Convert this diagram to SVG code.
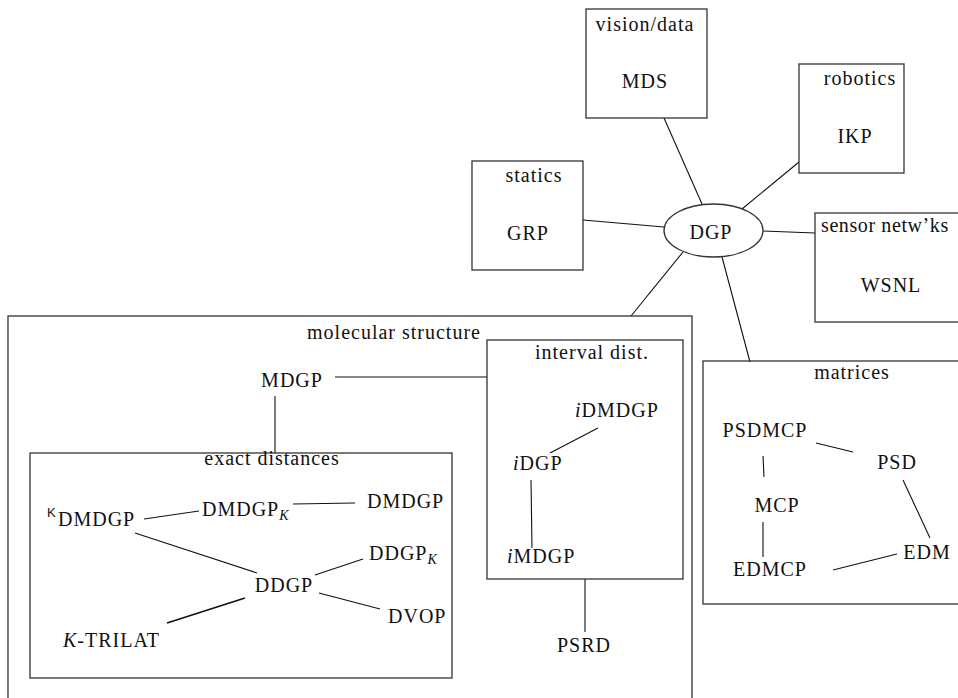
<svg xmlns="http://www.w3.org/2000/svg" width="958" height="698" viewBox="0 0 958 698" font-family="Liberation Serif, DejaVu Serif, serif">
<style>
text{font-size:20px;fill:#111;letter-spacing:1px}
.box{fill:none;stroke:#333;stroke-width:1.3}
.c line{stroke:#111;stroke-width:1.1}
.m{text-anchor:middle}
.it{font-style:italic}
.sub{font-style:italic;font-size:14px}
.sup{font-size:13px}
</style>
<rect width="958" height="698" fill="#fff"/>
<g class="c" id="connectors">
<line x1="664" y1="118" x2="702" y2="204"/>
<line x1="799" y1="162" x2="742" y2="209"/>
<line x1="583" y1="220" x2="664" y2="227"/>
<line x1="763" y1="231" x2="815" y2="233"/>
<line x1="683" y1="252" x2="631" y2="316"/>
<line x1="722" y1="257" x2="750" y2="362"/>
<line x1="335" y1="377" x2="487" y2="377"/>
<line x1="275" y1="396" x2="275" y2="453"/>
<line x1="585" y1="579" x2="585" y2="632"/>
<line x1="550" y1="453" x2="598" y2="428"/>
<line x1="531" y1="480" x2="532" y2="548"/>
<line x1="144" y1="519" x2="199" y2="511"/>
<line x1="293" y1="504" x2="355" y2="503"/>
<line x1="135" y1="533" x2="257" y2="573"/>
<line x1="315" y1="575" x2="363" y2="559"/>
<line x1="319" y1="593" x2="380" y2="609"/>
<line x1="245" y1="598" x2="167" y2="623" style="stroke-width:1.6"/>
<line x1="816" y1="443" x2="853" y2="452"/>
<line x1="763" y1="456" x2="764" y2="477"/>
<line x1="763" y1="522" x2="763" y2="557"/>
<line x1="903" y1="480" x2="930" y2="538"/>
<line x1="833" y1="570" x2="897" y2="554"/>
</g>
<g id="vision">
<rect class="box" x="586" y="9" width="121" height="109"/>
<text class="m" x="645" y="31">vision/data</text>
<text class="m" x="645" y="88">MDS</text>
</g>
<g id="robotics">
<rect class="box" x="799" y="64" width="105" height="109"/>
<text class="m" x="860" y="85">robotics</text>
<text class="m" x="855" y="143">IKP</text>
</g>
<g id="statics">
<rect class="box" x="472" y="161" width="111" height="109"/>
<text class="m" x="534" y="182">statics</text>
<text class="m" x="528" y="240">GRP</text>
</g>
<g id="dgp">
<ellipse class="box" cx="713.5" cy="230.5" rx="49.5" ry="26.5"/>
<text class="m" x="711" y="239">DGP</text>
</g>
<g id="sensor">
<rect class="box" x="815" y="213" width="150" height="109"/>
<text x="821" y="232" style="letter-spacing:0.6px">sensor netw’ks</text>
<text class="m" x="891" y="292">WSNL</text>
</g>
<g id="molecular">
<rect class="box" x="8" y="316" width="684" height="400"/>
<text class="m" x="394" y="339">molecular structure</text>
</g>
<g id="mdgp"><text class="m" x="292" y="387">MDGP</text></g>
<g id="psrd"><text class="m" x="584" y="652">PSRD</text></g>
<g id="interval">
<rect class="box" x="487" y="340" width="196" height="239"/>
<text class="m" x="592" y="359">interval dist.</text>
</g>
<g id="idmdgp"><text x="575" y="417"><tspan class="it">i</tspan>DMDGP</text></g>
<g id="idgp"><text x="513" y="470"><tspan class="it">i</tspan>DGP</text></g>
<g id="imdgp"><text x="507" y="563"><tspan class="it">i</tspan>MDGP</text></g>
<g id="exact">
<rect class="box" x="30" y="453" width="422" height="225"/>
<text class="m" x="272" y="465">exact distances</text>
</g>
<g id="kdmdgp"><text x="47" y="526"><tspan class="sup" dy="-9" font-family="Liberation Sans, DejaVu Sans, sans-serif">K</tspan><tspan dy="9" x="58">DMDGP</tspan></text></g>
<g id="dmdgpk"><text x="202" y="516">DMDGP<tspan class="sub" dy="4">K</tspan></text></g>
<g id="dmdgp"><text x="367" y="508">DMDGP</text></g>
<g id="ddgpk"><text x="369" y="560">DDGP<tspan class="sub" dy="4">K</tspan></text></g>
<g id="ddgp"><text class="m" x="284" y="592">DDGP</text></g>
<g id="dvop"><text x="388" y="623">DVOP</text></g>
<g id="ktrilat"><text x="63" y="647"><tspan class="it">K</tspan>-TRILAT</text></g>
<g id="matrices">
<rect class="box" x="703" y="361" width="270" height="243"/>
<text class="m" x="852" y="379">matrices</text>
</g>
<g id="psdmcp"><text class="m" x="765" y="437">PSDMCP</text></g>
<g id="psd"><text class="m" x="897" y="469">PSD</text></g>
<g id="mcp"><text class="m" x="777" y="512">MCP</text></g>
<g id="edm"><text class="m" x="927" y="559">EDM</text></g>
<g id="edmcp"><text class="m" x="770" y="576">EDMCP</text></g>
</svg>
